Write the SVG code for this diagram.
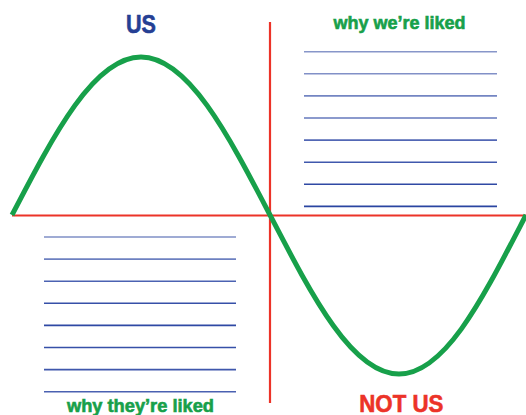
<svg xmlns="http://www.w3.org/2000/svg" width="526" height="415" viewBox="0 0 526 415">
<style>
.axis{stroke:#ec3328;stroke-width:2.2;fill:none}
.wave{stroke:#17a04a;stroke-width:5;fill:none;stroke-linecap:butt}
.rule{stroke-width:1.6}
.lbl{font-family:"Liberation Sans",Arial,sans-serif;font-weight:bold;text-anchor:middle;stroke-width:0.6}
.green{fill:#17a04a;stroke:#17a04a;font-size:18px}
</style>
<rect width="526" height="415" fill="#ffffff"/>
<g id="axes">
<line class="axis" x1="12" y1="215.5" x2="526" y2="215.5"/>
<line class="axis" x1="270" y1="22" x2="270" y2="403"/>
</g>
<g id="wave">
<path class="wave" d="M12,215 C54.07,134.06 94.31,57 141,57 C187.69,57 227.93,134.06 270,215 C312.07,295.94 352.31,374 399,374 C445.69,374 483.93,295.94 526,215"/>
</g>
<g id="lines-right">
<line class="rule" stroke="#8796c9" x1="304" y1="51.7" x2="497" y2="51.7"/>
<line class="rule" stroke="#8190c7" x1="304" y1="73.8" x2="497" y2="73.8"/>
<line class="rule" stroke="#7385c2" x1="304" y1="95.9" x2="497" y2="95.9"/>
<line class="rule" stroke="#6478bc" x1="304" y1="118" x2="497" y2="118"/>
<line class="rule" stroke="#5267b5" x1="304" y1="140.1" x2="497" y2="140.1"/>
<line class="rule" stroke="#4058ad" x1="304" y1="162.2" x2="497" y2="162.2"/>
<line class="rule" stroke="#2f49a4" x1="304" y1="184.3" x2="497" y2="184.3"/>
<line class="rule" stroke="#2a45a1" x1="304" y1="206.4" x2="497" y2="206.4"/>
</g>
<g id="lines-left">
<line class="rule" stroke="#7f8fc6" x1="44" y1="237" x2="236" y2="237"/>
<line class="rule" stroke="#6d80c0" x1="44" y1="259.1" x2="236" y2="259.1"/>
<line class="rule" stroke="#4b62b2" x1="44" y1="281.2" x2="236" y2="281.2"/>
<line class="rule" stroke="#3650a8" x1="44" y1="303.3" x2="236" y2="303.3"/>
<line class="rule" stroke="#2f49a4" x1="44" y1="325.4" x2="236" y2="325.4"/>
<line class="rule" stroke="#3650a8" x1="44" y1="347.5" x2="236" y2="347.5"/>
<line class="rule" stroke="#3f57ac" x1="44" y1="369.6" x2="236" y2="369.6"/>
<line class="rule" stroke="#4a61b1" x1="44" y1="391.7" x2="236" y2="391.7"/>
</g>
<g id="label-us">
<text class="lbl" x="141" y="32.7" font-size="26" fill="#253f94" stroke="#253f94" textLength="30" lengthAdjust="spacingAndGlyphs">US</text>
</g>
<g id="label-why-we">
<text class="lbl green" x="399.5" y="29" textLength="132" lengthAdjust="spacingAndGlyphs">why we’re liked</text>
</g>
<g id="label-why-they">
<text class="lbl green" x="140.5" y="411.5" textLength="147" lengthAdjust="spacingAndGlyphs">why they’re liked</text>
</g>
<g id="label-not-us">
<text class="lbl" x="401.3" y="411.5" font-size="24" fill="#ec3328" stroke="#ec3328" textLength="84" lengthAdjust="spacingAndGlyphs">NOT US</text>
</g>
</svg>
